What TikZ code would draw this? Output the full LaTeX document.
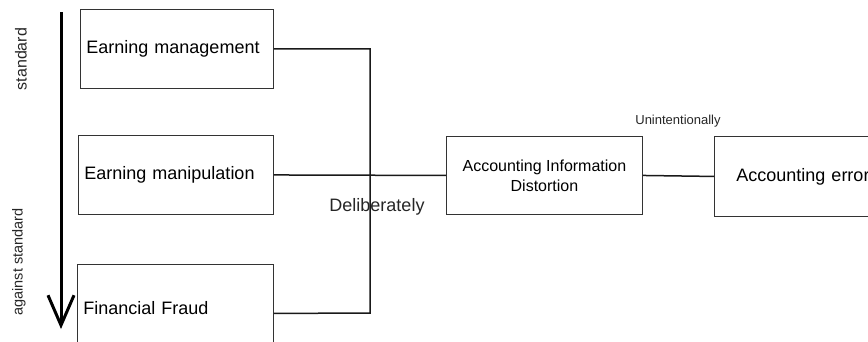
\documentclass[tikz,border=0pt]{standalone}
\usepackage{fontspec}
\setmainfont{Liberation Sans}
\usetikzlibrary{arrows.meta}
\begin{document}
\begin{tikzpicture}[x=1pt,y=-1pt,
  box/.style={draw=black!80, line width=0.9pt, rectangle, inner ysep=0pt},
  lbox/.style={box, align=left, inner xsep=6pt},
  conn/.style={draw=black!90, line width=1.5pt},
  lab/.style={inner sep=0pt, text=black!85}]
\useasboundingbox (0,0) rectangle (868,341);
\clip (0,0) rectangle (868,341);
% boxes
\node[lbox, text width=181pt, minimum height=79pt, anchor=north west, font=\fontsize{18}{20}\selectfont] (b1) at (80,9) {Earning management};
\node[lbox, text width=183pt, minimum height=79pt, anchor=north west, font=\fontsize{18}{20}\selectfont] (b2) at (78,135) {Earning manipulation};
\node[lbox, text width=184pt, minimum height=88pt, anchor=north west, font=\fontsize{18}{20}\selectfont] (b3) at (77,264) {Financial Fraud};
\node[box, align=center, minimum width=196pt, minimum height=78pt, anchor=north west, font=\fontsize{16}{20}\selectfont] (aid) at (446,136) {Accounting Information\\Distortion};
\node[box, align=left, inner xsep=22pt, text width=160pt, minimum height=80pt, anchor=north west, font=\fontsize{18}{20}\selectfont] (ae) at (714,136) {Accounting error};
% connectors
\coordinate (busB) at (370,313);
\draw[conn] (b1.east) -| (busB) -- ([yshift=-5pt]b3.east);
\draw[conn] (b2.east) -- (aid.west);
\draw[conn] (aid.east) -- (ae.west);
% arrow
\coordinate (atop) at (61,12);
\coordinate (abot) at (61,329);
\draw[line width=3pt, -{Straight Barb[length=30pt,width=26pt]}] (atop) -- (abot);
% labels
\node[lab, rotate=90, font=\fontsize{16}{18}\selectfont] (lstd) at (21,59) {standard};
\node[lab, rotate=90, font=\fontsize{14.5}{18}\selectfont] (lag) at (19,262) {against standard};
\node[lab, font=\fontsize{18}{20}\selectfont] (ldel) at (377,207) {Deliberately};
\node[lab, font=\fontsize{13}{15}\selectfont] (lun) at (678,121) {Unintentionally};
\end{tikzpicture}
\end{document}
